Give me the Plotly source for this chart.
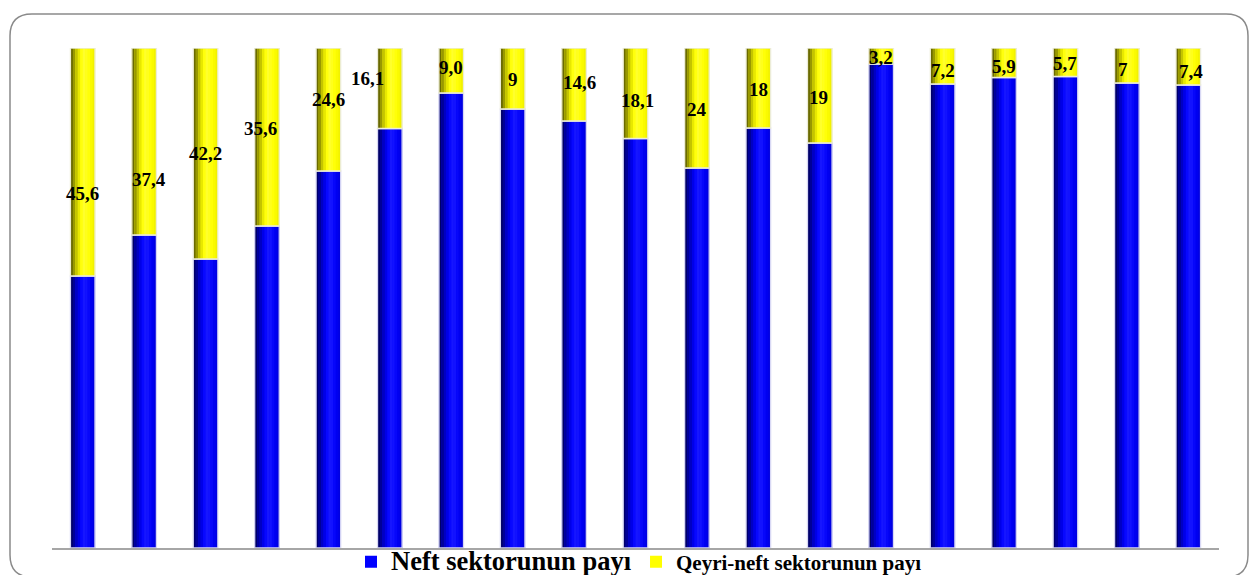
import plotly.graph_objects as go

# ---- data ----
categories = [1, 2, 3, 4, 5, 6, 7, 8, 9, 10, 11, 12, 13, 14, 15, 16, 17, 18, 19]
neft = [54.4, 62.6, 57.8, 64.4, 75.4, 83.9, 91.0, 87.8, 85.4, 81.9,
        76.0, 84.0, 81.0, 96.8, 92.8, 94.1, 94.3, 93.0, 92.6]
qeyri = [45.6, 37.4, 42.2, 35.6, 24.6, 16.1, 9.0, 12.2, 14.6, 18.1,
         24.0, 16.0, 19.0, 3.2, 7.2, 5.9, 5.7, 7.0, 7.4]
labels = ["45,6", "37,4", "42,2", "35,6", "24,6", "16,1", "9,0", "9", "14,6", "18,1",
          "24", "18", "19", "3,2", "7,2", "5,9", "5,7", "7", "7,4"]
series_names = ["Neft sektorunun payı", "Qeyri-neft sektorunun payı"]

# ---- layout / style ----
W, H = 1251, 575
ML, MR, MT, MB = 52, 32, 48, 27
PW, PH = W - ML - MR, H - MT - MB
FONT = "Liberation Serif, Times New Roman, serif"

def px_x(p):
    return (p - ML) / PW

def px_y(p):
    return (H - MB - p) / PH

bar_w = 0.40
blue_strips = ['#00006a', '#000098', '#0000c4', '#0000e8', '#0808ff',
               '#1616ff', '#1212ff', '#0707fa', '#0000f0', '#0000e2']
yellow_strips = ['#6a6a00', '#989800', '#c4c400', '#e8e800', '#ffff0c',
                 '#ffff2c', '#ffff1c', '#ffff08', '#fafa00', '#f2f200']

# label nudges in pixels (manual placement in the original)
lab_dx = [0, 5, 0, -6, 0, -22, 0, 0, 5, 2, 0, 0, -1, 0, 0, 0, 0, -4, 3]
lab_dy = [-31, -38, 0, 9, 10, 10, 3, -1, 2, -7, -1, -1, -2, -1, -4, -4, -1, -4, -5]

fig = go.Figure()

def add_series(values, base, name, solid, strips, outline):
    fig.add_trace(go.Bar(x=categories, y=values, base=base, width=bar_w,
                         name=name, marker=dict(color=solid, line=dict(width=0)),
                         hoverinfo="skip"))
    n = len(strips)
    sw = bar_w / n
    for k, c in enumerate(strips):
        fig.add_trace(go.Bar(x=categories, y=values, base=base, width=sw * 1.06,
                             offset=-bar_w / 2 + k * sw,
                             marker=dict(color=c, line=dict(width=0)),
                             showlegend=False, hoverinfo="skip"))
    fig.add_trace(go.Bar(x=categories, y=values, base=base, width=bar_w,
                         marker=dict(color="rgba(0,0,0,0)", line=dict(color=outline, width=1.3)),
                         showlegend=False, hoverinfo="skip"))

add_series(neft, [0] * len(neft), series_names[0], "#0000ff", blue_strips, "#d8d8f4")
add_series(qeyri, neft, series_names[1], "#ffff00", yellow_strips, "#ececd8")

for i, cat in enumerate(categories):
    fig.add_annotation(x=cat, y=neft[i] + qeyri[i] / 2, text=labels[i],
                       showarrow=False, xshift=lab_dx[i], yshift=lab_dy[i],
                       font=dict(family=FONT, size=19, color="black", weight="bold"))

# rounded frame
L, T, R, B, r = 10, 14, 1248, 577, 22
pts = [("M", L, T + r), ("Q", L, T, L + r, T), ("L", R - r, T), ("Q", R, T, R, T + r),
       ("L", R, B - r), ("Q", R, B, R - r, B), ("L", L + r, B), ("Q", L, B, L, B - r)]
path = ""
for p in pts:
    cmd = p[0]
    coords = p[1:]
    s = []
    for j in range(0, len(coords), 2):
        s.append(f"{px_x(coords[j]):.5f},{px_y(coords[j + 1]):.5f}")
    path += cmd + " " + " ".join(s) + " "
path += "Z"
fig.add_shape(type="path", path=path, xref="paper", yref="paper",
              line=dict(color="#8a8a8a", width=1.5), fillcolor="rgba(0,0,0,0)", layer="below")

fig.update_layout(
    width=W, height=H,
    margin=dict(l=ML, r=MR, t=MT, b=MB, autoexpand=False),
    paper_bgcolor="white", plot_bgcolor="white",
    barmode="overlay",
    showlegend=True,
    legend=dict(orientation="h", x=px_x(351), xanchor="left", y=px_y(562), yanchor="middle",
                font=dict(family=FONT, size=21, color="black", weight="bold"),
                bgcolor="rgba(0,0,0,0)", itemclick=False, itemdoubleclick=False,
                tracegroupgap=0, itemwidth=30),
    xaxis=dict(range=[0.5, 19.5], showgrid=False, zeroline=False, showticklabels=False,
               ticks="", showline=True, linecolor="#a6a6a6", linewidth=2),
    yaxis=dict(range=[0, 100], showgrid=False, zeroline=False, showticklabels=False,
               ticks="", showline=False),
    font=dict(family=FONT),
)

fig.data[0].name = '<span style="font-size:26.5px">Neft sektorunun payı</span>'

fig.write_html("out.html", config={"displayModeBar": False},
               post_script="document.body.style.margin='0';document.body.style.overflow='hidden';")
